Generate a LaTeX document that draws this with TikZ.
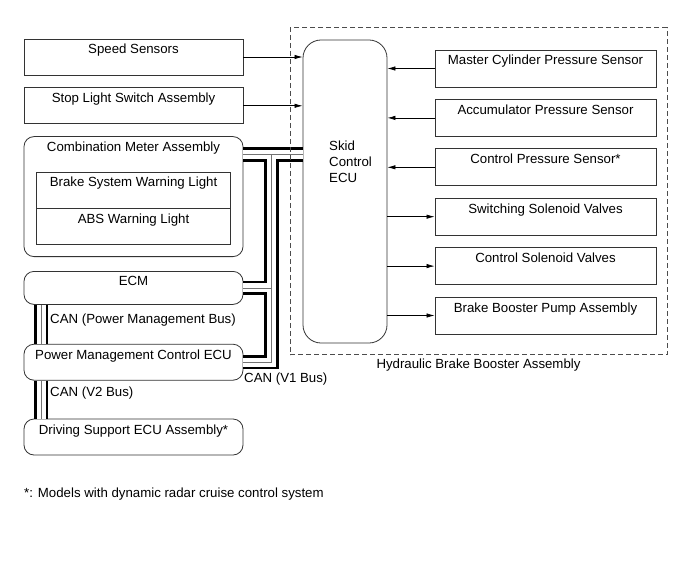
\documentclass[tikz,border=0pt]{standalone}
\usepackage{fontspec}
\setmainfont{Liberation Sans}
\usepackage{tikz}
\usetikzlibrary{shapes,arrows.meta,positioning}
\newcommand{\diagfont}{\fontsize{13.3}{16}\selectfont}
\tikzset{
partbox/.style={rectangle,draw=black!80,line width=0.8bp,inner sep=0pt,
  minimum width=219bp,text height=15bp,text depth=21bp,font=\diagfont},
unitbox/.style={partbox,rounded corners=10bp},
lampbox/.style={partbox,minimum width=194bp},
valvebox/.style={partbox,minimum width=221bp,text depth=22bp},
ecubox/.style={rectangle,rounded corners=18bp,draw=black!80,line width=0.8bp,
  minimum width=84bp,minimum height=303bp},
asmframe/.style={rectangle,draw=black!70,line width=0.7bp,dash pattern=on 5bp off 3bp,
  minimum width=377bp,minimum height=327bp},
plaintext/.style={inner sep=0pt,font=\diagfont},
sigarr/.style={line width=0.7bp,-{Latex[length=8bp,width=4.4bp]}},
busedge/.style={line width=14.5bp,black},
busgap/.style={line width=9bp,white},
buscore/.style={line width=0.8bp,black!55}
}
% one CAN line, drawn in three layers
\newcommand{\canroute}[1]{%
  \draw[#1] (comb.east |- jtop) -- (ecu.west |- jtop);
  \draw[#1] (jtop) -- (jbot) -- (pmc.east);
  \draw[#1] (jtop |- ecm.east) -- (ecm.east);
  \draw[#1] (ecm.south -| jleft) -- (pmc.north -| jleft);
  \draw[#1] (pmc.south -| jleft) -- (drv.north -| jleft);}
\begin{document}
\begin{tikzpicture}[x=1bp,y=-1bp]
\useasboundingbox (0,0) rectangle (691,564);
% left side
\node[partbox] (spd) at (133.5,57) {Speed Sensors};
\node[partbox,below=12bp of spd] (stop) {Stop Light Switch Assembly};
\node[unitbox,text depth=105bp,below=12bp of stop] (comb) {Combination Meter Assembly};
\node[lampbox] (bswl) at (133.5,190) {Brake System Warning Light};
\node[lampbox,below=0bp of bswl] (absl) {ABS Warning Light};
\node[unitbox,text height=14bp,text depth=19bp,below=14bp of comb] (ecm) {ECM};
\node[unitbox,below=39bp of ecm] (pmc) {Power Management Control ECU};
\node[unitbox,below=38bp of pmc] (drv) {Driving Support ECU Assembly*};
\node[plaintext,anchor=west] (canpm) at (50,320) {CAN (Power Management Bus)};
\node[plaintext,anchor=west] (canv2) at (50,393) {CAN (V2 Bus)};
\node[plaintext,anchor=west] (canv1) at (244,379) {CAN (V1 Bus)};
% skid control ECU and actuator side
\node[ecubox] (ecu) at (345,191.5) {};
\node[plaintext,align=left,anchor=north west] (ecutxt) at (329,141) {Skid\\Control\\ECU};
\node[valvebox] (mcps) at (545.5,68.5) {Master Cylinder Pressure Sensor};
\node[valvebox,below=11.6bp of mcps] (acps) {Accumulator Pressure Sensor};
\node[valvebox,below=11.6bp of acps] (ctps) {Control Pressure Sensor*};
\node[valvebox,below=11.6bp of ctps] (swsv) {Switching Solenoid Valves};
\node[valvebox,below=11.6bp of swsv] (ctsv) {Control Solenoid Valves};
\node[valvebox,below=11.6bp of ctsv] (bbpa) {Brake Booster Pump Assembly};
\node[plaintext,anchor=west] (note) at (24,494) {*: Models with dynamic radar cruise control system};
% CAN
\coordinate (jtop) at (271.5,154.5);
\coordinate (jbot) at (jtop |- pmc.east);
\coordinate (jleft) at (41,0);
\canroute{busedge}
\canroute{busgap}
\canroute{buscore}
% signals
\draw[sigarr] (spd.east) -- (spd.east -| ecu.west);
\draw[sigarr] (stop.east) -- (stop.east -| ecu.west);
\draw[sigarr] (mcps.west) -- (mcps.west -| ecu.east);
\draw[sigarr] (acps.west) -- (acps.west -| ecu.east);
\draw[sigarr] (ctps.west) -- (ctps.west -| ecu.east);
\draw[sigarr] (swsv.west -| ecu.east) -- (swsv.west);
\draw[sigarr] (ctsv.west -| ecu.east) -- (ctsv.west);
\draw[sigarr] (bbpa.west -| ecu.east) -- (bbpa.west);
\node[asmframe] (hbba) at (478.5,191.3) {};
\node[plaintext,below=4bp of hbba] (hbbalbl) {Hydraulic Brake Booster Assembly};
\end{tikzpicture}
\end{document}
